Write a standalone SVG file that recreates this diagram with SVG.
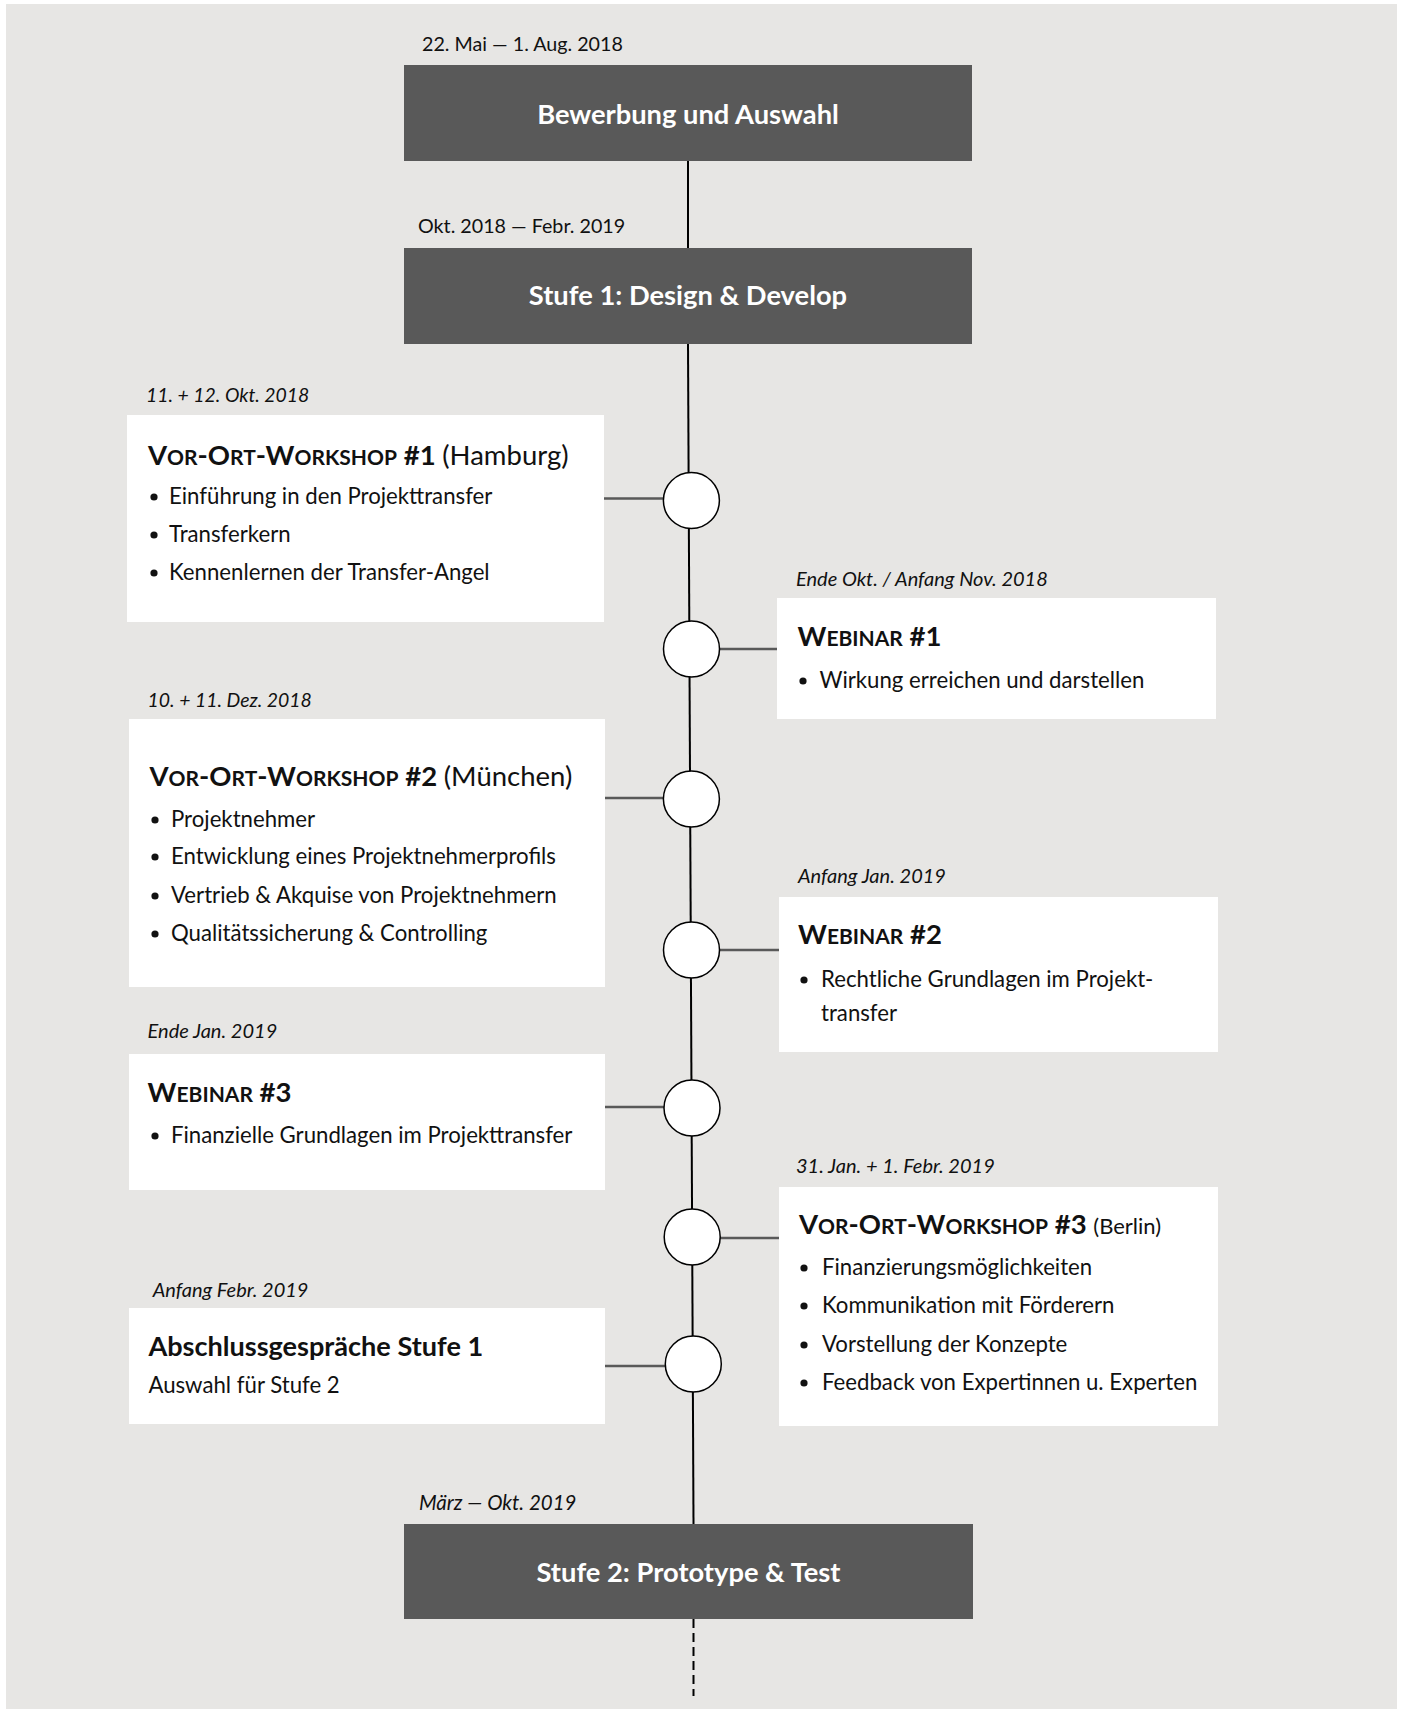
<svg xmlns="http://www.w3.org/2000/svg" width="1403" height="1709" viewBox="0 0 1403 1709">
<defs>
<style>
text { font-family: Lato, "Open Sans", sans-serif; fill: #111; }
.date { font-size: 19.7px; }
.it { font-style: italic; font-size: 20px; }
.phase { fill: #595959; }
.phase-t { font-size: 27.3px; font-weight: bold; fill: #fff; text-anchor: middle; }
.card { fill: #fff; }
.title { font-size: 27.5px; font-weight: bold; }
.sc { font-size: 21px; }
.reg { font-weight: normal; }
.body { font-size: 22.2px; }
.dot { fill: #111; }
.tl { stroke: #000; stroke-width: 2; fill: none; }
.conn { stroke: #595959; stroke-width: 2.5; fill: none; }
.node { fill: #fff; stroke: #000; stroke-width: 1.5; }
</style>
</defs>
<rect x="6" y="4" width="1391" height="1705" fill="#e7e6e4"/>

<g id="connectors">
<line class="tl" x1="688" y1="161" x2="688" y2="248"/>
<line class="tl" x1="688" y1="344" x2="693.5" y2="1524"/>
<line class="tl" x1="693.5" y1="1619" x2="693.5" y2="1696" stroke-dasharray="9 5"/>
<line class="conn" x1="604" y1="498.5" x2="663" y2="498.5"/>
<line class="conn" x1="720" y1="649" x2="777" y2="649"/>
<line class="conn" x1="605" y1="798" x2="663" y2="798"/>
<line class="conn" x1="720" y1="950" x2="779" y2="950"/>
<line class="conn" x1="605" y1="1107" x2="664" y2="1107"/>
<line class="conn" x1="720" y1="1238" x2="779" y2="1238"/>
<line class="conn" x1="605" y1="1366" x2="665" y2="1366"/>
</g>

<g id="timeline-nodes">
<circle id="n1" class="node" cx="691.4" cy="500.5" r="28"/>
<circle id="n2" class="node" cx="691.5" cy="649" r="28"/>
<circle id="n3" class="node" cx="691.4" cy="799" r="28"/>
<circle id="n4" class="node" cx="691.5" cy="950" r="28"/>
<circle id="n5" class="node" cx="692" cy="1108" r="28"/>
<circle id="n6" class="node" cx="692.2" cy="1237" r="28"/>
<circle id="n7" class="node" cx="693.3" cy="1364" r="28"/>
</g>

<g id="phase-bewerbung">
<text class="date" x="422" y="51">22. Mai — 1. Aug. 2018</text>
<rect class="phase" x="404" y="65" width="568" height="96"/>
<text class="phase-t" x="688" y="124">Bewerbung und Auswahl</text>
</g>

<g id="phase-stufe1">
<text class="date" x="418" y="233">Okt. 2018 — Febr. 2019</text>
<rect class="phase" x="404" y="248" width="568" height="96"/>
<text class="phase-t" x="688" y="305">Stufe 1: Design &amp; Develop</text>
</g>

<g id="workshop1">
<text class="date it" x="146" y="402" style="font-size:19.4px">11. + 12. Okt. 2018</text>
<rect class="card" x="127" y="415" width="477" height="207"/>
<text class="title" x="148" y="465">V<tspan class="sc">OR</tspan>-O<tspan class="sc">RT</tspan>-W<tspan class="sc">ORKSHOP</tspan> #1 <tspan class="reg">(Hamburg)</tspan></text>
<circle class="dot" cx="154" cy="497" r="3.6"/>
<text class="body" x="169" y="504">Einführung in den Projekttransfer</text>
<circle class="dot" cx="154" cy="535" r="3.6"/>
<text class="body" x="169" y="542">Transferkern</text>
<circle class="dot" cx="154" cy="573" r="3.6"/>
<text class="body" x="169" y="580">Kennenlernen der Transfer-Angel</text>
</g>

<g id="webinar1">
<text class="date it" x="796" y="586">Ende Okt. / Anfang Nov. 2018</text>
<rect class="card" x="777" y="598" width="439" height="121"/>
<text class="title" x="797.5" y="646">W<tspan class="sc">EBINAR</tspan> #1</text>
<circle class="dot" cx="803" cy="681" r="3.6"/>
<text class="body" x="819.5" y="688">Wirkung erreichen und darstellen</text>
</g>

<g id="workshop2">
<text class="date it" x="147.6" y="707" style="font-size:19.4px">10. + 11. Dez. 2018</text>
<rect class="card" x="129" y="719" width="476" height="268"/>
<text class="title" x="149.5" y="786">V<tspan class="sc">OR</tspan>-O<tspan class="sc">RT</tspan>-W<tspan class="sc">ORKSHOP</tspan> #2 <tspan class="reg">(München)</tspan></text>
<circle class="dot" cx="155" cy="820" r="3.6"/>
<text class="body" x="171" y="827">Projektnehmer</text>
<circle class="dot" cx="155" cy="857" r="3.6"/>
<text class="body" x="171" y="864">Entwicklung eines Projektnehmerprofils</text>
<circle class="dot" cx="155" cy="896" r="3.6"/>
<text class="body" x="171" y="903">Vertrieb &amp; Akquise von Projektnehmern</text>
<circle class="dot" cx="155" cy="934" r="3.6"/>
<text class="body" x="171" y="941">Qualitätssicherung &amp; Controlling</text>
</g>

<g id="webinar2">
<text class="date it" x="798" y="883">Anfang Jan. 2019</text>
<rect class="card" x="779" y="897" width="439" height="155"/>
<text class="title" x="798" y="944">W<tspan class="sc">EBINAR</tspan> #2</text>
<circle class="dot" cx="804" cy="980" r="3.6"/>
<text class="body" x="821" y="987">Rechtliche Grundlagen im Projekt-</text>
<text class="body" x="821" y="1021">transfer</text>
</g>

<g id="webinar3">
<text class="date it" x="147.6" y="1038">Ende Jan. 2019</text>
<rect class="card" x="129" y="1054" width="476" height="136"/>
<text class="title" x="147.6" y="1102">W<tspan class="sc">EBINAR</tspan> #3</text>
<circle class="dot" cx="155" cy="1136" r="3.6"/>
<text class="body" x="171" y="1143">Finanzielle Grundlagen im Projekttransfer</text>
</g>

<g id="workshop3">
<text class="date it" x="796" y="1173">31. Jan. + 1. Febr. 2019</text>
<rect class="card" x="779" y="1187" width="439" height="239"/>
<text class="title" x="799" y="1234">V<tspan class="sc">OR</tspan>-O<tspan class="sc">RT</tspan>-W<tspan class="sc">ORKSHOP</tspan> #3 <tspan class="reg" style="font-size:22px">(Berlin)</tspan></text>
<circle class="dot" cx="804" cy="1268" r="3.6"/>
<text class="body" x="822" y="1275">Finanzierungsmöglichkeiten</text>
<circle class="dot" cx="804" cy="1306" r="3.6"/>
<text class="body" x="822" y="1313">Kommunikation mit Förderern</text>
<circle class="dot" cx="804" cy="1345" r="3.6"/>
<text class="body" x="822" y="1352">Vorstellung der Konzepte</text>
<circle class="dot" cx="804" cy="1383" r="3.6"/>
<text class="body" x="822" y="1390">Feedback von Expertinnen u. Experten</text>
</g>

<g id="abschluss">
<text class="date it" x="152.7" y="1297">Anfang Febr. 2019</text>
<rect class="card" x="129" y="1308" width="476" height="116"/>
<text class="title" x="148.4" y="1356" style="font-size:27.1px">Abschlussgespräche Stufe 1</text>
<text class="body" x="148.4" y="1393">Auswahl für Stufe 2</text>
</g>

<g id="phase-stufe2">
<text class="date it" x="419" y="1510" style="font-size:20.5px">März — Okt. 2019</text>
<rect class="phase" x="404" y="1524" width="569" height="95"/>
<text class="phase-t" x="688.5" y="1582">Stufe 2: Prototype &amp; Test</text>
</g>
</svg>
